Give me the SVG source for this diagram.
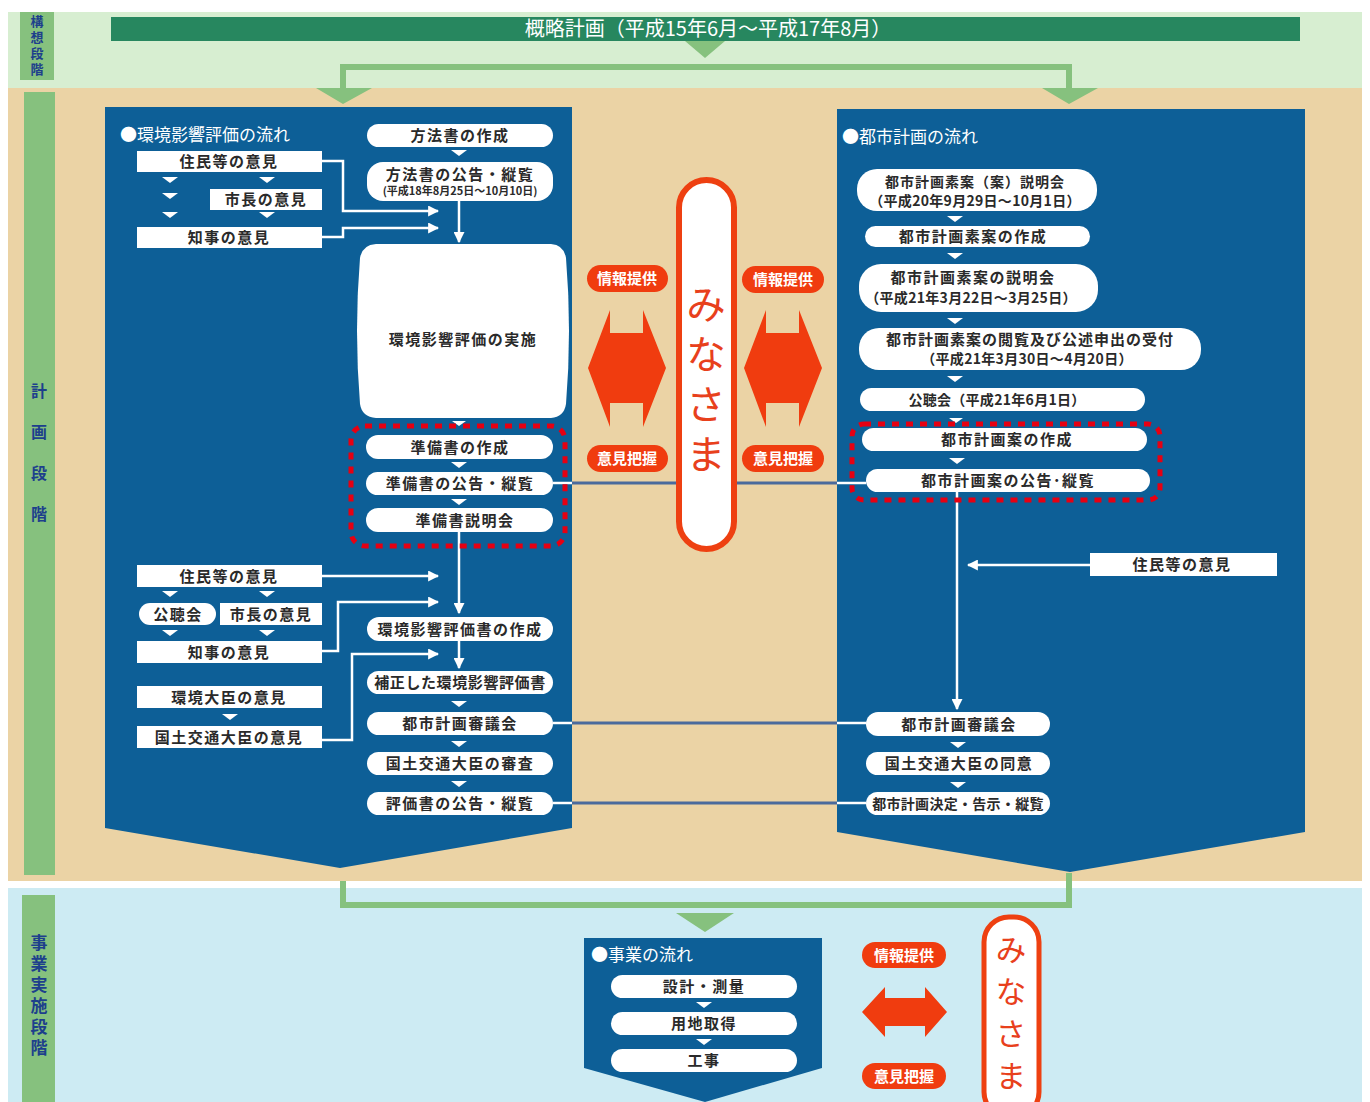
<svg xmlns="http://www.w3.org/2000/svg" width="1370" height="1102" viewBox="0 0 1370 1102">
<defs>
<style>
text{font-family:"Noto Sans CJK JP","Noto Sans",sans-serif}
.pill{fill:#fff}
.t{font-size:15px;font-weight:bold;fill:#2a2a2a;text-anchor:middle;letter-spacing:1.5px}
.t2{font-size:14px;font-weight:bold;fill:#2a2a2a;text-anchor:middle;letter-spacing:0.3px}
.ts{font-size:11px;font-weight:bold;fill:#2a2a2a;text-anchor:middle}
.hd{font-size:17px;fill:#fff}
.tri{fill:#fff}
.vt{writing-mode:vertical-rl;text-anchor:middle;font-weight:bold;fill:#1d3f8c}
.red{fill:#f03c0f}
.rt{font-size:15px;font-weight:bold;fill:#fff;text-anchor:middle}
.mn{writing-mode:vertical-rl;text-anchor:middle;fill:#e8401c}
.wl{stroke:#fff;stroke-width:2.5;fill:none}
.bl{stroke:#4a6a9c;stroke-width:3;fill:none}
.gl{stroke:#86c17e;stroke-width:6;fill:none}
.gt{fill:#86c17e}
.dot{fill:none;stroke:#e60012;stroke-width:5;stroke-dasharray:7 7}
</style>
<marker id="ah" viewBox="0 0 10 10" refX="9" refY="5" markerWidth="11" markerHeight="11" markerUnits="userSpaceOnUse" orient="auto">
<path d="M0,0 L10,5 L0,10 z" fill="#fff"/>
</marker>
</defs>

<!-- background bands -->
<rect x="0" y="0" width="1370" height="1102" fill="#fff"/>
<rect x="8" y="12" width="1354" height="76" fill="#d7eed1"/>
<rect x="8" y="88" width="1354" height="793" fill="#ebd3a5"/>
<rect x="8" y="888" width="1354" height="214" fill="#cdebf3"/>

<!-- stage labels -->
<g id="stage1">
<rect x="20" y="12" width="34" height="68" fill="#86c17e"/>
<text class="vt" x="37" y="47" style="font-size:13px;letter-spacing:3px">構想段階</text>
</g>
<g id="stage2">
<rect x="24" y="92" width="31" height="783" fill="#86c17e"/>
<text class="vt" x="39" y="465" style="font-size:16px;letter-spacing:25px">計画段階</text>
</g>
<g id="stage3">
<rect x="22" y="895" width="33" height="207" fill="#86c17e"/>
<text class="vt" x="39" y="997" style="font-size:17px;letter-spacing:4px">事業実施段階</text>
</g>

<!-- title -->
<g id="title">
<rect x="111" y="17" width="1189" height="24" fill="#27875f"/>
<text x="708" y="36" font-size="20" fill="#fff" text-anchor="middle">概略計画（平成15年6月～平成17年8月）</text>
</g>

<!-- green flow arrows -->
<g id="green-flow">
<polygon class="gt" points="685,41 725,41 705,58"/>
<path class="gl" d="M343,90 V67 H1069 V90"/>
<polygon class="gt" points="316,88 372,88 343,104"/>
<polygon class="gt" points="1042,88 1098,88 1069,104"/>
<path class="gl" d="M343,881 V905 H1069 V873"/>
<polygon class="gt" points="676,913 734,913 705,932"/>
</g>

<!-- panels -->
<g id="panel-left"><path d="M105,107 H572 V828 L340,868 L105,828 Z" fill="#0d5f97"/>
<text class="hd" x="120" y="141">●環境影響評価の流れ</text></g>
<g id="panel-right"><path d="M837,109 H1305 V832 L1070,872 L837,832 Z" fill="#0d5f97"/>
<text class="hd" x="842" y="143">●都市計画の流れ</text></g>
<g id="panel-bottom"><path d="M584,938 H822 V1068 L705,1102 L584,1068 Z" fill="#0d5f97"/>
<text class="hd" x="591" y="961">●事業の流れ</text></g>

<!-- connectors -->
<g id="connectors">
<polyline class="wl" points="322,161 343,161 343,211 438,211" marker-end="url(#ah)"/>
<polyline class="wl" points="322,237 343,237 343,228 438,228" marker-end="url(#ah)"/>
<line class="wl" x1="459" y1="200" x2="459" y2="242" marker-end="url(#ah)"/>
<line class="wl" x1="459" y1="532" x2="459" y2="613" marker-end="url(#ah)"/>
<line class="wl" x1="322" y1="576" x2="438" y2="576" marker-end="url(#ah)"/>
<polyline class="wl" points="322,651 338,651 338,602 438,602" marker-end="url(#ah)"/>
<polyline class="wl" points="322,740 352,740 352,654 438,654" marker-end="url(#ah)"/>
<line class="wl" x1="459" y1="641" x2="459" y2="668" marker-end="url(#ah)"/>
<line class="wl" x1="957" y1="492" x2="957" y2="709" marker-end="url(#ah)"/>
<line class="wl" x1="1090" y1="565" x2="968" y2="565" marker-end="url(#ah)"/>
<line class="wl" x1="553" y1="483" x2="572" y2="483"/>
<line class="bl" x1="572" y1="483" x2="680" y2="483"/>
<line class="bl" x1="734" y1="483" x2="837" y2="483"/>
<line class="wl" x1="837" y1="483" x2="866" y2="483"/>
<line class="wl" x1="553" y1="723" x2="572" y2="723"/>
<line class="bl" x1="572" y1="723" x2="837" y2="723"/>
<line class="wl" x1="837" y1="723" x2="866" y2="723"/>
<line class="wl" x1="553" y1="803" x2="572" y2="803"/>
<line class="bl" x1="572" y1="803" x2="837" y2="803"/>
<line class="wl" x1="837" y1="803" x2="866" y2="803"/>
<!-- small step triangles -->
<polygon class="tri" points="162,177 178,177 170,183"/>
<polygon class="tri" points="162,193 178,193 170,199"/>
<polygon class="tri" points="162,212 178,212 170,218"/>
<polygon class="tri" points="259,177 275,177 267,183"/>
<polygon class="tri" points="259,212 275,212 267,218"/>
<polygon class="tri" points="451,150 467,150 459,156"/>
<polygon class="tri" points="452,421 466,421 459,426"/>
<polygon class="tri" points="451,462 467,462 459,468"/>
<polygon class="tri" points="451,499 467,499 459,505"/>
<polygon class="tri" points="162,591 178,591 170,597"/>
<polygon class="tri" points="259,591 275,591 267,597"/>
<polygon class="tri" points="162,630 178,630 170,636"/>
<polygon class="tri" points="259,630 275,630 267,636"/>
<polygon class="tri" points="222,714 238,714 230,720"/>
<polygon class="tri" points="451,701 467,701 459,707"/>
<polygon class="tri" points="451,741 467,741 459,747"/>
<polygon class="tri" points="451,781 467,781 459,787"/>
<polygon class="tri" points="947,216 963,216 955,222"/>
<polygon class="tri" points="947,253 963,253 955,259"/>
<polygon class="tri" points="947,318 963,318 955,324"/>
<polygon class="tri" points="947,376 963,376 955,382"/>
<polygon class="tri" points="949,418 963,418 956,423"/>
<polygon class="tri" points="949,458 965,458 957,464"/>
<polygon class="tri" points="950,742 966,742 958,748"/>
<polygon class="tri" points="950,782 966,782 958,788"/>
<polygon class="tri" points="696,1002 712,1002 704,1008"/>
<polygon class="tri" points="696,1039 712,1039 704,1045"/>
</g>

<!-- left panel nodes -->
<g id="n-jumin1"><rect class="pill" x="137" y="151" width="185" height="21"/><text class="t" x="229" y="167">住民等の意見</text></g>
<g id="n-shicho1"><rect class="pill" x="210" y="189" width="112" height="21"/><text class="t" x="266" y="205">市長の意見</text></g>
<g id="n-chiji1"><rect class="pill" x="137" y="227" width="185" height="21"/><text class="t" x="229" y="243">知事の意見</text></g>
<g id="n-hoho1"><rect class="pill" x="367" y="124" width="186" height="23" rx="11.5"/><text class="t" x="460" y="141">方法書の作成</text></g>
<g id="n-hoho2"><rect class="pill" x="367" y="162" width="186" height="39" rx="16"/><text class="t" x="460" y="180">方法書の公告・縦覧</text><text class="ts" x="460" y="195">(平成18年8月25日～10月10日)</text></g>
<g id="n-jisshi"><path class="pill" d="M376,244 H551 Q564,245 566,258 Q572,331 566,404 Q564,417 551,418 H376 Q362,417 360,404 Q354,331 360,258 Q362,245 376,244 Z"/><text class="t" x="463" y="345">環境影響評価の実施</text></g>
<g id="n-jun1"><rect class="pill" x="366" y="435" width="187" height="24" rx="12"/><text class="t" x="460" y="453">準備書の作成</text></g>
<g id="n-jun2"><rect class="pill" x="366" y="472" width="187" height="23" rx="11.5"/><text class="t" x="460" y="489">準備書の公告・縦覧</text></g>
<g id="n-jun3"><rect class="pill" x="366" y="508" width="187" height="24" rx="12"/><text class="t" x="465" y="526">準備書説明会</text></g>
<rect class="dot" x="351" y="426" width="214" height="120" rx="14"/>
<g id="n-jumin2"><rect class="pill" x="137" y="565" width="185" height="22"/><text class="t" x="229" y="582">住民等の意見</text></g>
<g id="n-kochokai1"><rect class="pill" x="139" y="603" width="77" height="22" rx="11"/><text class="t" x="178" y="620">公聴会</text></g>
<g id="n-shicho2"><rect class="pill" x="220" y="603" width="102" height="22"/><text class="t" x="271" y="620">市長の意見</text></g>
<g id="n-chiji2"><rect class="pill" x="137" y="641" width="185" height="22"/><text class="t" x="229" y="658">知事の意見</text></g>
<g id="n-kankyo"><rect class="pill" x="137" y="686" width="185" height="22"/><text class="t" x="229" y="703">環境大臣の意見</text></g>
<g id="n-kokudo1"><rect class="pill" x="137" y="726" width="185" height="22"/><text class="t" x="229" y="743">国土交通大臣の意見</text></g>
<g id="n-hyokasho"><rect class="pill" x="367" y="617" width="186" height="24" rx="12"/><text class="t" x="460" y="635">環境影響評価書の作成</text></g>
<g id="n-hosei"><rect class="pill" x="367" y="671" width="186" height="23" rx="11.5"/><text class="t" x="460" y="688" style="letter-spacing:0.6px">補正した環境影響評価書</text></g>
<g id="n-shingi1"><rect class="pill" x="367" y="712" width="186" height="23" rx="11.5"/><text class="t" x="460" y="729">都市計画審議会</text></g>
<g id="n-shinsa"><rect class="pill" x="367" y="752" width="186" height="23" rx="11.5"/><text class="t" x="460" y="769">国土交通大臣の審査</text></g>
<g id="n-kokoku"><rect class="pill" x="367" y="792" width="186" height="23" rx="11.5"/><text class="t" x="460" y="809">評価書の公告・縦覧</text></g>

<!-- right panel nodes -->
<g id="r1"><rect class="pill" x="857" y="169" width="240" height="42" rx="20"/><text class="t2" x="975" y="187" style="letter-spacing:1px">都市計画素案（案）説明会</text><text class="t2" x="975" y="206">（平成20年9月29日～10月1日）</text></g>
<g id="r2"><rect class="pill" x="865" y="226" width="225" height="21" rx="10.5"/><text class="t" x="973" y="242">都市計画素案の作成</text></g>
<g id="r3"><rect class="pill" x="859" y="264" width="239" height="48" rx="22"/><text class="t" x="973" y="283">都市計画素案の説明会</text><text class="t2" x="971" y="303">（平成21年3月22日～3月25日）</text></g>
<g id="r4"><rect class="pill" x="859" y="328" width="342" height="42" rx="20"/><text class="t" x="1030" y="345" style="letter-spacing:1px">都市計画素案の閲覧及び公述申出の受付</text><text class="t2" x="1027" y="364">（平成21年3月30日～4月20日）</text></g>
<g id="r5"><rect class="pill" x="860" y="388" width="285" height="23" rx="11.5"/><text class="t2" x="997" y="405">公聴会（平成21年6月1日）</text></g>
<g id="r6"><rect class="pill" x="862" y="428" width="285" height="23" rx="11.5"/><text class="t" x="1007" y="445">都市計画案の作成</text></g>
<g id="r7"><rect class="pill" x="866" y="469" width="284" height="23" rx="11.5"/><text class="t" x="1008" y="486">都市計画案の公告･縦覧</text></g>
<rect class="dot" x="852" y="424" width="308" height="76" rx="12"/>
<g id="r-jumin"><rect class="pill" x="1090" y="553" width="187" height="23"/><text class="t" x="1182" y="570">住民等の意見</text></g>
<g id="r-shingi"><rect class="pill" x="866" y="712" width="184" height="24" rx="12"/><text class="t" x="959" y="730">都市計画審議会</text></g>
<g id="r-doi"><rect class="pill" x="866" y="752" width="184" height="23" rx="11.5"/><text class="t" x="959" y="769">国土交通大臣の同意</text></g>
<g id="r-kettei"><rect class="pill" x="866" y="792" width="184" height="23" rx="11.5"/><text class="t2" x="958" y="809" style="letter-spacing:0.3px">都市計画決定・告示・縦覧</text></g>

<!-- bottom panel nodes -->
<g id="b1"><rect class="pill" x="611" y="975" width="186" height="23" rx="11.5"/><text class="t" x="704" y="992">設計・測量</text></g>
<g id="b2"><rect class="pill" x="611" y="1012" width="186" height="23" rx="11.5"/><text class="t" x="704" y="1029">用地取得</text></g>
<g id="b3"><rect class="pill" x="611" y="1049" width="186" height="23" rx="11.5"/><text class="t" x="704" y="1066">工事</text></g>

<!-- minasama and info exchange -->
<g id="minasama1">
<rect x="679" y="180" width="55" height="369" rx="27.5" fill="#fff" stroke="#ee4011" stroke-width="6"/>
<text class="mn" x="706" y="384" style="font-size:40px;letter-spacing:10px">みなさま</text>
</g>
<g id="info-left">
<rect class="red" x="587" y="265" width="81" height="27" rx="13.5"/><text class="rt" x="627" y="284">情報提供</text>
<polygon class="red" points="610,310 610,333 643,333 643,310 666,368 643,427 643,403 610,403 610,427 588,368"/>
<rect class="red" x="587" y="445" width="81" height="27" rx="13.5"/><text class="rt" x="627" y="464">意見把握</text>
</g>
<g id="info-right">
<rect class="red" x="742" y="266" width="82" height="27" rx="13.5"/><text class="rt" x="783" y="285">情報提供</text>
<polygon class="red" points="766,310 766,333 799,333 799,310 822,368 799,427 799,403 766,403 766,427 744,368"/>
<rect class="red" x="742" y="445" width="82" height="27" rx="13.5"/><text class="rt" x="783" y="464">意見把握</text>
</g>
<g id="info-bottom">
<rect class="red" x="862" y="942" width="84" height="26" rx="13"/><text class="rt" x="904" y="961">情報提供</text>
<polygon class="red" points="862,1012 885,987 885,998 925,998 925,987 947,1012 925,1037 925,1026 885,1026 885,1037"/>
<rect class="red" x="862" y="1063" width="84" height="26" rx="13"/><text class="rt" x="904" y="1082">意見把握</text>
</g>
<g id="minasama2">
<rect x="984" y="917" width="55" height="200" rx="25" fill="#fff" stroke="#ee4011" stroke-width="5"/>
<text class="mn" x="1011" y="1018" style="font-size:31px;letter-spacing:11px">みなさま</text>
</g>
</svg>
